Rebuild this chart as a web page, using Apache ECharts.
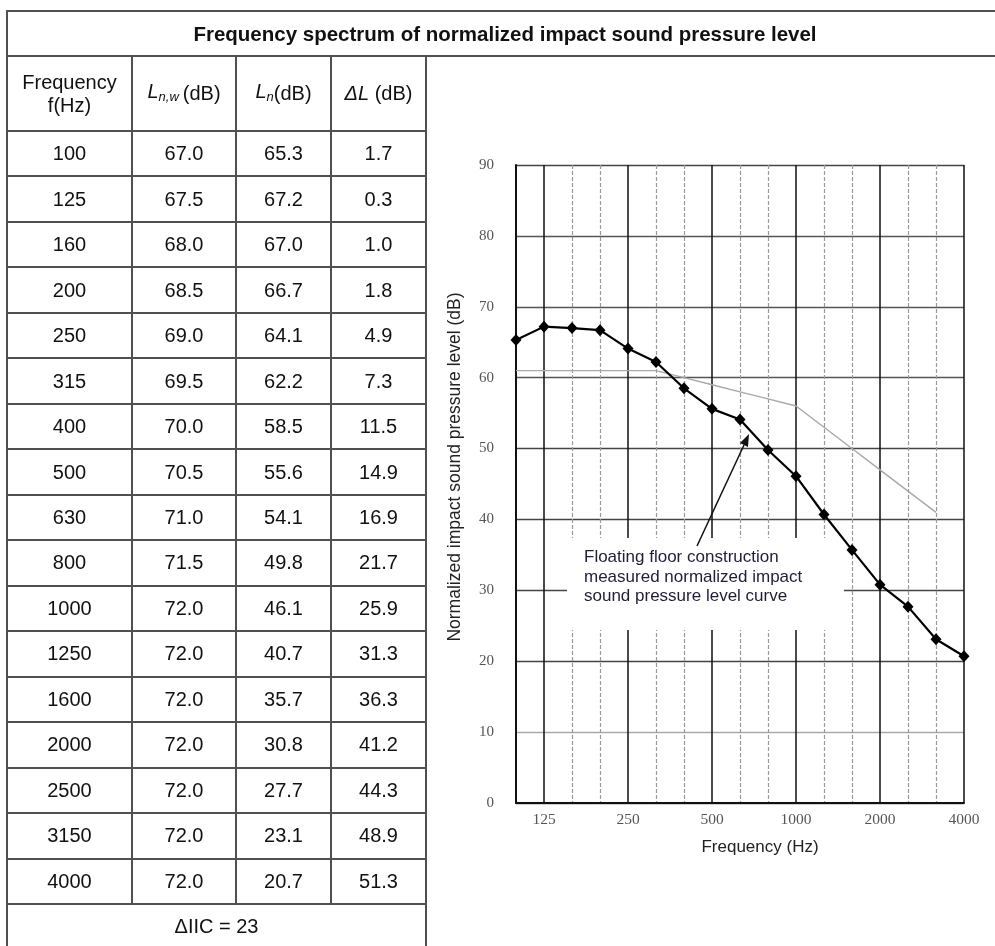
<!DOCTYPE html>
<html>
<head>
<meta charset="utf-8">
<script src="https://cdn.jsdelivr.net/npm/echarts@6/dist/echarts.min.js"></script>
<style>
html,body{margin:0;padding:0;background:#fff;}
#wrap{position:relative;width:995px;height:946px;overflow:hidden;font-family:"Liberation Sans",Arial,sans-serif;color:#111;}
#chart{position:absolute;left:0;top:0;width:995px;height:946px;}
.ln{position:absolute;background:#505050;}
.cell{position:absolute;display:flex;align-items:center;justify-content:center;text-align:center;font-size:20px;line-height:23px;}
</style>
</head>
<body>
<div id="wrap">
<div id="chart"></div>
<div id="table"></div>
</div>
<script>
// ---- data ----
const tableTitle = 'Frequency spectrum of normalized impact sound pressure level';
const frequencies = ['100','125','160','200','250','315','400','500','630','800','1000','1250','1600','2000','2500','3150','4000'];
const lnwValues = ['67.0','67.5','68.0','68.5','69.0','69.5','70.0','70.5','71.0','71.5','72.0','72.0','72.0','72.0','72.0','72.0','72.0'];
const lnValues = [65.3,67.2,67.0,66.7,64.1,62.2,58.5,55.6,54.1,49.8,46.1,40.7,35.7,30.8,27.7,23.1,20.7];
const deltaLValues = ['1.7','0.3','1.0','1.8','4.9','7.3','11.5','14.9','16.9','21.7','25.9','31.3','36.3','41.2','44.3','48.9','51.3'];
const referenceCurve = [61,61,61,61,61,61,60,59,58,57,56,53,50,47,44,41,null];
const octaveLabels = ['125','250','500','1000','2000','4000'];
const summaryText = '\u0394IIC = 23';
const headerHtml = ['Frequency<br>f(Hz)', '<i>L<sub style="font-size:13px;vertical-align:-3px">n,w</sub></i>&thinsp;(dB)', '<i>L<sub style="font-size:13px;vertical-align:-3px">n</sub></i>(dB)', '<i>\u0394L</i>&nbsp;(dB)'];
const annotationText = 'Floating floor construction\nmeasured normalized impact\nsound pressure level curve';

// ---- table (built from the arrays) ----
const T = document.getElementById('table');
const colX = [7,132,236,331,426];
const titleTop = 11, headTop = 56, bodyTop = 131, rowH = 45.47;
function hline(x1,x2,y,w){y=Math.round(y);const d=document.createElement('div');d.className='ln';d.style.cssText=`left:${x1-1}px;top:${y-1}px;width:${x2-x1+2}px;height:${w}px`;T.appendChild(d);}
function vline(x,y1,y2,w){const d=document.createElement('div');d.className='ln';d.style.cssText=`left:${x-1}px;top:${Math.round(y1)-1}px;width:${w}px;height:${Math.round(y2)-Math.round(y1)+1}px`;T.appendChild(d);}
function cell(x1,x2,y1,y2,html,extra){const d=document.createElement('div');d.className='cell';d.style.cssText=`left:${x1}px;top:${y1}px;width:${x2-x1}px;height:${y2-y1}px;`+(extra||'');d.innerHTML=html;T.appendChild(d);}
const nRows = frequencies.length;
const bodyBottom = bodyTop + nRows*rowH;
hline(colX[0],996,titleTop,2);
hline(colX[0],996,headTop,2);
vline(colX[0],titleTop,947,2);
vline(colX[4],headTop,947,2);
for(let c=1;c<4;c++) vline(colX[c],headTop,bodyBottom,2);
hline(colX[0],colX[4],bodyTop,2);
for(let r=1;r<=nRows;r++) hline(colX[0],colX[4],bodyTop+r*rowH,2);
cell(colX[0],995,titleTop,headTop,tableTitle,'font-weight:bold;font-size:20.5px;left:'+colX[0]+'px;width:'+(1010-colX[0]*2)+'px;');
for(let c=0;c<4;c++) cell(colX[c],colX[c+1],headTop,bodyTop,headerHtml[c]);
for(let r=0;r<nRows;r++){
  const y1=bodyTop+r*rowH, y2=y1+rowH;
  const vals=[frequencies[r],lnwValues[r],lnValues[r].toFixed(1),deltaLValues[r]];
  for(let c=0;c<4;c++) cell(colX[c],colX[c+1],y1,y2,vals[c]);
}
cell(colX[0],colX[4],bodyBottom,bodyBottom+rowH,summaryText);

// ---- chart ----
const chart = echarts.init(document.getElementById('chart'), null, {renderer:'canvas'});
const isOct = v => octaveLabels.indexOf(v) >= 0;
const serif = '"Liberation Serif","DejaVu Serif",serif';
chart.setOption({
  animation:false,
  backgroundColor:'transparent',
  grid:{left:516,top:165,width:448,height:638,containLabel:false},
  xAxis:[{
    type:'category',data:frequencies,boundaryGap:false,
    name:'Frequency (Hz)',nameLocation:'middle',nameGap:36,
    nameTextStyle:{fontFamily:'"Liberation Sans",Arial,sans-serif',fontSize:17,color:'#222',padding:[0,0,0,40]},
    axisLine:{show:true,lineStyle:{color:'#111',width:2}},
    axisTick:{show:false},
    axisLabel:{interval:(i,v)=>isOct(v),margin:9,fontFamily:serif,fontSize:15.5,color:'#555'},
    splitLine:{show:true,interval:(i,v)=>isOct(v),lineStyle:{color:'#111',width:1.5}}
  },{
    type:'category',data:frequencies,boundaryGap:false,position:'bottom',
    axisLine:{show:false},axisTick:{show:false},axisLabel:{show:false},
    splitLine:{show:true,interval:(i,v)=>i>0 && !isOct(v),lineStyle:{color:'#9a9a9a',width:1.2,type:[4,2]}}
  }],
  yAxis:{
    type:'value',min:0,max:90,interval:10,
    name:'Normalized impact sound pressure level (dB)',nameLocation:'middle',nameGap:52,
    nameTextStyle:{fontFamily:'"Liberation Sans",Arial,sans-serif',fontSize:17.5,color:'#222',padding:[0,0,0,34]},
    axisLine:{show:true,lineStyle:{color:'#111',width:2}},
    axisTick:{show:false},
    axisLabel:{margin:22,fontFamily:serif,fontSize:15,color:'#555'},
    splitLine:{show:true,lineStyle:{color:['#444','#aaa','#444','#444','#444','#444','#555','#555','#555','#444'],width:1.4}}
  },
  series:[{
    type:'line',data:referenceCurve,xAxisIndex:0,symbol:'none',
    lineStyle:{color:'#a8a8a8',width:1.4},z:2
  },{
    type:'line',data:lnValues,xAxisIndex:0,symbol:'diamond',symbolSize:[11,12],
    itemStyle:{color:'#000'},lineStyle:{color:'#000',width:2.2},z:4
  }],
  graphic:[
    {type:'rect',z:1,shape:{x:567,y:538,width:277,height:92},style:{fill:'#fff'}},
    {type:'text',z:5,x:584,y:548,style:{text:annotationText,font:'17px "Liberation Sans", Arial, sans-serif',lineHeight:19.5,fill:'#1e1e38'}},
    {type:'line',z:5,shape:{x1:697,y1:546,x2:744,y2:445},style:{stroke:'#111',lineWidth:1.5}},
    {type:'polygon',z:5,shape:{points:[[749,434],[748,447],[740,443]]},style:{fill:'#111'}}
  ]
});
</script>
</body>
</html>
